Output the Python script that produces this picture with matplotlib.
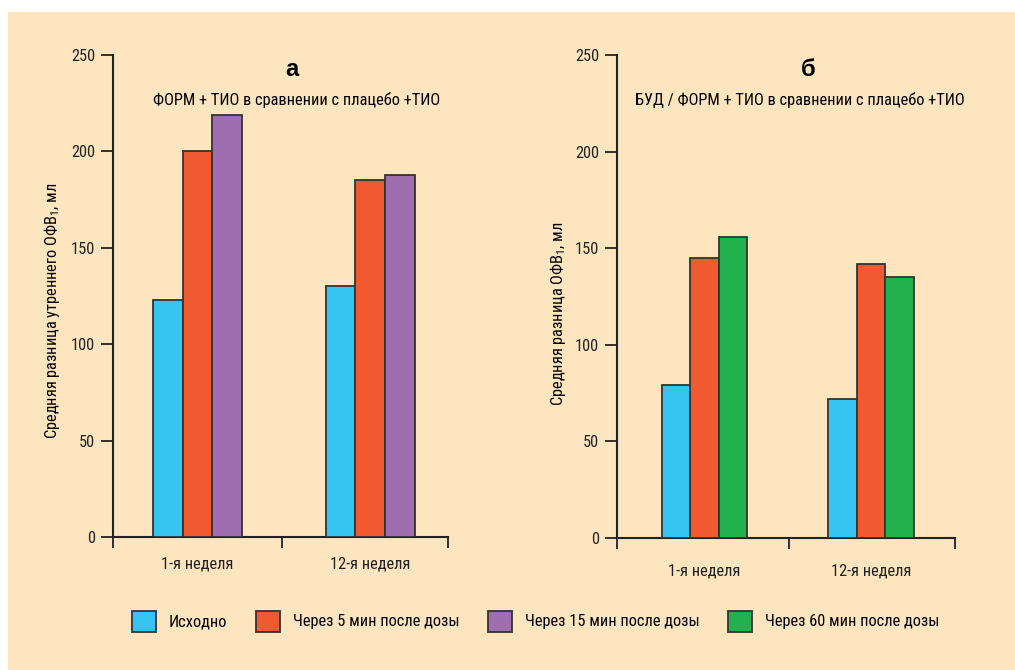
import matplotlib
matplotlib.use("Agg")
import matplotlib.pyplot as plt
from matplotlib.patches import Rectangle, Patch
import numpy as np

plt.rcParams['font.family'] = ['Roboto Condensed', 'PT Sans Narrow', 'Roboto', 'DejaVu Sans']
plt.rcParams['mathtext.fontset'] = 'custom'
plt.rcParams['mathtext.rm'] = 'Roboto Condensed'
plt.rcParams['mathtext.it'] = 'Roboto Condensed'

# data
weeks = ["1-я неделя", "12-я неделя"]
series_names = ["Исходно", "Через 5 мин после дозы",
                "Через 15 мин после дозы", "Через 60 мин после дозы"]

form_baseline = [123, 130]
form_5min = [200, 185]
form_15min = [219, 188]

bud_baseline = [79, 72]
bud_5min = [145, 142]
bud_60min = [156, 135]

c_blue = "#36C5F0"
c_orange = "#F15A30"
c_purple = "#9E6EAE"
c_green = "#22B14C"
bg = "#FDE6BF"
edge = "#333333"
fs = 11.8

fig = plt.figure(figsize=(10.15, 6.7), dpi=100, facecolor="white")
fig.add_artist(Rectangle((8/1015, 0), 1, 1 - 12/670, transform=fig.transFigure,
                         facecolor=bg, edgecolor="none", zorder=-10))

ax1 = fig.add_axes([113/1015, 1 - 537/670, 335/1015, 482/670])
ax2 = fig.add_axes([617/1015, 1 - 538/670, 338/1015, 483/670])

w = 0.172
x = np.arange(len(weeks))


def style(ax, xlim, mid, pad):
    ax.set_facecolor("none")
    ax.set_ylim(0, 250)
    ax.set_xlim(*xlim)
    ax.spines['top'].set_visible(False)
    ax.spines['right'].set_visible(False)
    for s in ['left', 'bottom']:
        ax.spines[s].set_linewidth(1.5)
        ax.spines[s].set_color("#222222")
    ax.set_yticks([0, 50, 100, 150, 200, 250])
    ax.tick_params(axis='y', length=9, width=1.3, labelsize=fs, pad=4, colors="#222222")
    # group separators as major ticks, week labels as minor ticks
    ax.set_xticks([xlim[0], mid, xlim[1]])
    ax.set_xticklabels([])
    ax.tick_params(axis='x', which='major', length=8, width=1.3, colors="#222222")
    ax.set_xticks(x, minor=True)
    ax.set_xticklabels(weeks, minor=True)
    ax.tick_params(axis='x', which='minor', length=0, labelsize=fs, pad=pad, colors="#222222")


def bars(ax, vals, colors):
    for i, (v, c) in enumerate(zip(vals, colors)):
        ax.bar(x + (i - 1) * w, v, w, color=c, edgecolor=edge, linewidth=1.3, zorder=3)


bars(ax1, [form_baseline, form_5min, form_15min], [c_blue, c_orange, c_purple])
style(ax1, (-0.49, 1.452), 0.49, 14)
ax1.set_ylabel("Средняя разница утреннего ОФВ$_1$, мл", fontsize=fs)
ax1.yaxis.set_label_coords(-0.152, 0.469)
ax1.text(0.534, 0.969, "а", transform=ax1.transAxes, ha='center', va='center',
         fontsize=17, fontweight='bold', family=['Liberation Sans', 'DejaVu Sans'])
ax1.text(0.549, 0.907, "ФОРМ + ТИО в сравнении с плацебо +ТИО", transform=ax1.transAxes,
         ha='center', va='center', fontsize=fs)

bars(ax2, [bud_baseline, bud_5min, bud_60min], [c_blue, c_orange, c_green])
style(ax2, (-0.5255, 1.5045), 0.507, 18)
ax2.set_ylabel("Средняя разница ОФВ$_1$, мл", fontsize=fs)
ax2.yaxis.set_label_coords(-0.145, 0.464)
ax2.text(0.565, 0.969, "б", transform=ax2.transAxes, ha='center', va='center',
         fontsize=17, fontweight='bold', family=['Liberation Sans', 'DejaVu Sans'])
ax2.text(0.541, 0.907, "БУД / ФОРМ + ТИО в сравнении с плацебо +ТИО", transform=ax2.transAxes,
         ha='center', va='center', fontsize=fs)

handles = [Patch(facecolor=c, edgecolor=edge, linewidth=1.3)
           for c in [c_blue, c_orange, c_purple, c_green]]
fig.legend(handles, series_names, loc='center', bbox_to_anchor=(0.528, 0.073),
           ncol=4, frameon=False, fontsize=fs, handlelength=1.45, handleheight=1.6,
           handletextpad=0.8, columnspacing=1.75)

fig.savefig("out.png", dpi=100, facecolor=fig.get_facecolor())
